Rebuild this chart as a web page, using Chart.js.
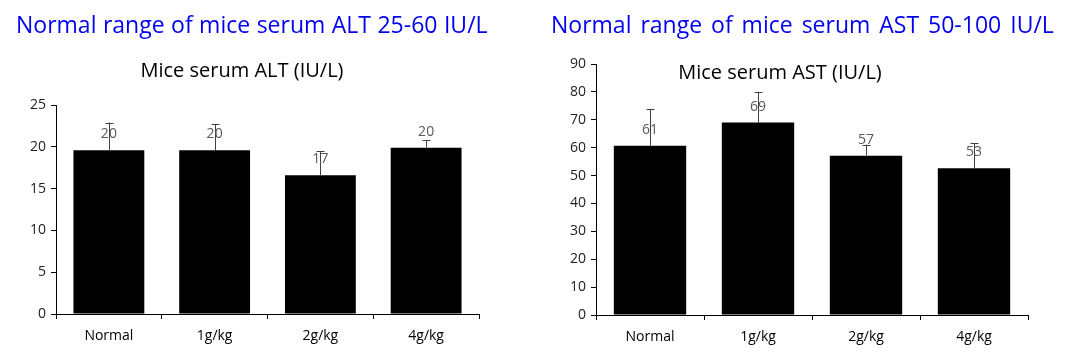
<!doctype html>
<html>
<head>
  <script src="https://cdn.jsdelivr.net/npm/chart.js@4/dist/chart.umd.min.js"></script>
  <style>
    body { margin: 0; background: #fff; font-family: "Open Sans", sans-serif; }
    .wrap { position: relative; width: 1076px; height: 352px; }
    .head { position: absolute; top: 8px; font-size: 23px; color: #0000ee; white-space: nowrap; }
    .box { position: absolute; top: 0; width: 538px; height: 352px; }
  </style>
</head>
<body>
  <div class="wrap">
    <div class="box" style="left:0"><canvas id="alt"></canvas></div>
    <div class="box" style="left:538px"><canvas id="ast"></canvas></div>
    <div class="head" style="left:16px; word-spacing:0.5px">Normal range of mice serum ALT 25-60 IU/L</div>
    <div class="head" style="left:551px; word-spacing:3px">Normal range of mice serum AST 50-100 IU/L</div>
  </div>
  <script>
    const categories = ['Normal', '1g/kg', '2g/kg', '4g/kg'];
    const altValues = [19.6, 19.6, 16.6, 19.9];
    const altErrors = [3.3, 3.1, 2.9, 0.9];
    const astValues = [60.7, 69.0, 57.1, 52.6];
    const astErrors = [13.2, 11.0, 4.0, 9.0];

    const font = '"Open Sans", sans-serif';

    // error bars, value labels and the inner title
    const extras = {
      id: 'extras',
      afterDatasetsDraw(chart, args, opts) {
        const ctx = chart.ctx;
        const y = chart.scales.y;
        const meta = chart.getDatasetMeta(0);
        const data = chart.data.datasets[0].data;
        ctx.save();
        ctx.strokeStyle = '#404040';
        ctx.lineWidth = 1;
        meta.data.forEach((bar, i) => {
          const x = Math.round(bar.x) + 0.5;
          const top = y.getPixelForValue(data[i] + opts.errors[i]);
          ctx.beginPath();
          ctx.moveTo(x, bar.y);
          ctx.lineTo(x, top);
          ctx.moveTo(x - 4, Math.round(top) + 0.5);
          ctx.lineTo(x + 4, Math.round(top) + 0.5);
          ctx.stroke();
        });
        ctx.fillStyle = '#595959';
        ctx.font = '14px ' + font;
        ctx.textAlign = 'center';
        ctx.textBaseline = 'middle';
        meta.data.forEach((bar, i) => {
          ctx.fillText(String(Math.round(data[i])), bar.x, bar.y - 16);
        });
        ctx.fillStyle = '#000';
        ctx.font = '20px ' + font;
        ctx.fillText(opts.title, opts.titleX, opts.titleY);
        ctx.restore();
      }
    };

    function makeChart(id, values, errors, max, step, title, titleY, pad, yWidth, xHeight) {
      return new Chart(document.getElementById(id), {
        type: 'bar',
        data: {
          labels: categories,
          datasets: [{
            data: values,
            backgroundColor: '#000',
            categoryPercentage: 1,
            barPercentage: 0.67
          }]
        },
        options: {
          responsive: false,
          animation: false,
          events: [],
          layout: { padding: pad },
          plugins: {
            legend: { display: false },
            tooltip: { enabled: false },
            extras: { errors: errors, title: title, titleX: 242, titleY: titleY }
          },
          scales: {
            x: {
              grid: { drawOnChartArea: false, tickLength: 5, color: '#000' },
              border: { color: '#000' },
              ticks: { color: '#000', font: { family: font, size: 14 }, padding: 9 },
              afterFit: (s) => { s.height = xHeight; }
            },
            y: {
              min: 0,
              max: max,
              grid: { drawOnChartArea: false, tickLength: 5, color: '#000' },
              border: { color: '#000' },
              ticks: { stepSize: step, color: '#222', font: { family: font, size: 14 }, padding: 5 },
              afterFit: (s) => { s.width = yWidth; }
            }
          }
        },
        plugins: [extras]
      });
    }

    function sized(id) {
      const c = document.getElementById(id);
      c.width = 538;
      c.height = 352;
      c.style.width = '538px';
      c.style.height = '352px';
    }
    sized('alt');
    sized('ast');

    makeChart('alt', altValues, altErrors, 25, 5, 'Mice serum ALT (IU/L)', 71,
      { left: 0, right: 59, top: 105, bottom: 0 }, 56, 38);
    makeChart('ast', astValues, astErrors, 90, 10, 'Mice serum AST (IU/L)', 73,
      { left: 0, right: 48, top: 64, bottom: 0 }, 58, 37);
  </script>
</body>
</html>
